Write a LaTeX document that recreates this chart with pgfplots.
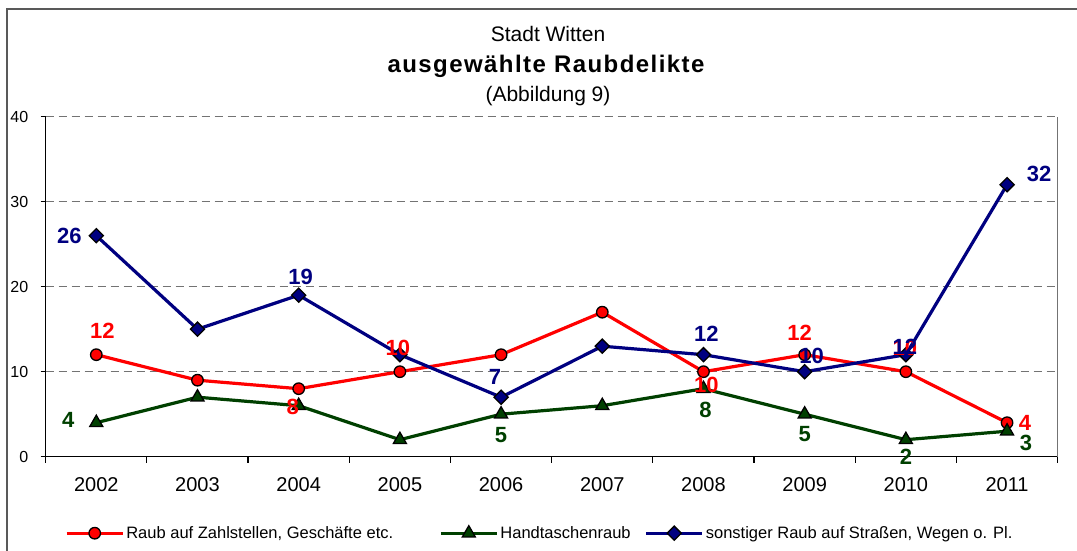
\documentclass[border=0pt]{standalone}
\usepackage{fontspec}
\setmainfont{Liberation Sans}
\usepackage{pgfplots}
\usepackage{pgfplotstable}
\pgfplotsset{compat=1.18}

\definecolor{raubred}{RGB}{255,0,0}
\definecolor{handgreen}{RGB}{0,64,0}
\definecolor{strblue}{RGB}{0,0,128}

% series values, 2002..2011 plotted at 0..9
\pgfplotstableread{
x y
0 12
1 9
2 8
3 10
4 12
5 17
6 10
7 12
8 10
9 4
}\raub
\pgfplotstableread{
x y
0 4
1 7
2 6
3 2
4 5
5 6
6 8
7 5
8 2
9 3
}\hand
\pgfplotstableread{
x y
0 26
1 15
2 19
3 12
4 7
5 13
6 12
7 10
8 12
9 32
}\strasse

% data labels that are shown, with their offsets (pt)
\pgfplotstableread{
x y lbl dx dy
0 12 12 6 24
2 8 8 -6 -18
3 10 10 -2 24
6 10 10 3 -13
7 12 12 -5 22
8 10 10 -1 24
9 4 4 18 0
}\raublbl
\pgfplotstableread{
x y lbl dx dy
0 4 4 -28 3
4 5 5 0 -21
6 8 8 2 -21
7 5 5 0 -20
8 2 2 0 -17
9 3 3 19 -12
}\handlbl
\pgfplotstableread{
x y lbl dx dy
0 26 26 -27 0
2 19 19 2 18
4 7 7 -6 20
6 12 12 3 21
7 10 10 7 16
8 12 12 -1 8
9 32 32 32 11
}\strasselbl

\pgfplotsset{
  lbl/.style={draw=none, mark=none, forget plot,
    nodes near coords, point meta=explicit symbolic,
    visualization depends on={\thisrow{dx} \as \dx},
    visualization depends on={\thisrow{dy} \as \dy},
    nodes near coords style={anchor=center, xshift=\dx pt, yshift=\dy pt,
      font=\fontsize{22}{22}\selectfont\bfseries, text=#1, inner sep=0pt}},
  legline/.style={legend image code/.code={
    \draw[mark repeat=2, mark phase=2, ##1] plot coordinates {(0pt,0pt) (28pt,0pt) (56pt,0pt)};}},
}

\begin{document}
\begin{tikzpicture}[x=1pt,y=1pt]
\begin{axis}[
    scale only axis, width=1012pt, height=340pt,
    xmin=-0.5, xmax=9.5, ymin=0, ymax=40,
    axis x line*=bottom, axis y line*=left,
    axis line style={black, line width=1.3pt, -},
    xtick={0,...,9},
    xticklabels={2002,2003,2004,2005,2006,2007,2008,2009,2010,2011},
    minor xtick={-0.5,0.5,...,9.5},
    major x tick style={draw=none},
    minor x tick style={black, line width=1.2pt},
    ytick={0,10,20,30,40},
    y tick style={black, line width=1.2pt},
    tick align=outside, major tick length=5pt, minor tick length=6pt,
    ymajorgrids,
    grid style={dashed, black!55, line width=1.3pt, dash pattern=on 8pt off 5pt},
    xticklabel style={font=\fontsize{20}{20}\selectfont, yshift=-12pt},
    yticklabel style={font=\fontsize{16}{16}\selectfont, xshift=-9pt},
    /pgf/number format/assume math mode=true,
    legend columns=3,
    legend style={draw=none, fill=none, inner sep=0pt,
      at={(0.019,-0.225)}, anchor=west,
      font=\fontsize{16.5}{16.5}\selectfont,
      /tikz/every odd column/.append style={column sep=0pt},
      /tikz/column 2/.style={column sep=44pt},
      /tikz/column 4/.style={column sep=12pt}},
    legend cell align=left,
    clip=false,
  ]
  \addplot[raubred, line width=3.2pt, mark=*, mark size=5.75pt,
    mark options={fill=raubred, draw=black, line width=1.3pt}, legline]
    table[x=x, y=y] {\raub};
  \addlegendentry{Raub auf Zahlstellen, Geschäfte etc.}
  \addplot[handgreen, line width=3.2pt, mark=triangle*, mark size=7.5pt,
    mark options={fill=handgreen, draw=black, line width=1.3pt}, legline]
    table[x=x, y=y] {\hand};
  \addlegendentry{Handtaschenraub}
  \addplot[strblue, line width=3.2pt, mark=square*, mark size=5pt,
    mark options={fill=strblue, draw=black, line width=1.3pt, rotate=45}, legline]
    table[x=x, y=y] {\strasse};
  \addlegendentry{sonstiger Raub auf Straßen, Wegen o. Pl.}

  \addplot[lbl=raubred] table[x=x, y=y, meta=lbl] {\raublbl};
  \addplot[lbl=handgreen] table[x=x, y=y, meta=lbl] {\handlbl};
  \addplot[lbl=strblue] table[x=x, y=y, meta=lbl] {\strasselbl};

  \draw[black!55, line width=1.3pt] (rel axis cs:1,0) -- (rel axis cs:1,1);
  \coordinate (O) at (rel axis cs:0,0);
\end{axis}

\pgfresetboundingbox
\begin{scope}[shift={(O)}, xshift=-45.7pt, yshift=-94.3pt]
  \path[use as bounding box] (0,0) rectangle (1077,551);
  \draw[line width=2pt, black!65] (7,-20) -- (7,542) -- (1100,542);
  \node[font=\fontsize{21}{21}\selectfont] at (548,517) {Stadt Witten};
  \node[font=\fontsize{24}{24}\selectfont\bfseries\addfontfeature{LetterSpace=6}] at (546,485) {ausgewählte Raubdelikte};
  \node[font=\fontsize{21}{21}\selectfont] at (548,455) {(Abbildung 9)};
\end{scope}
\end{tikzpicture}
\end{document}
